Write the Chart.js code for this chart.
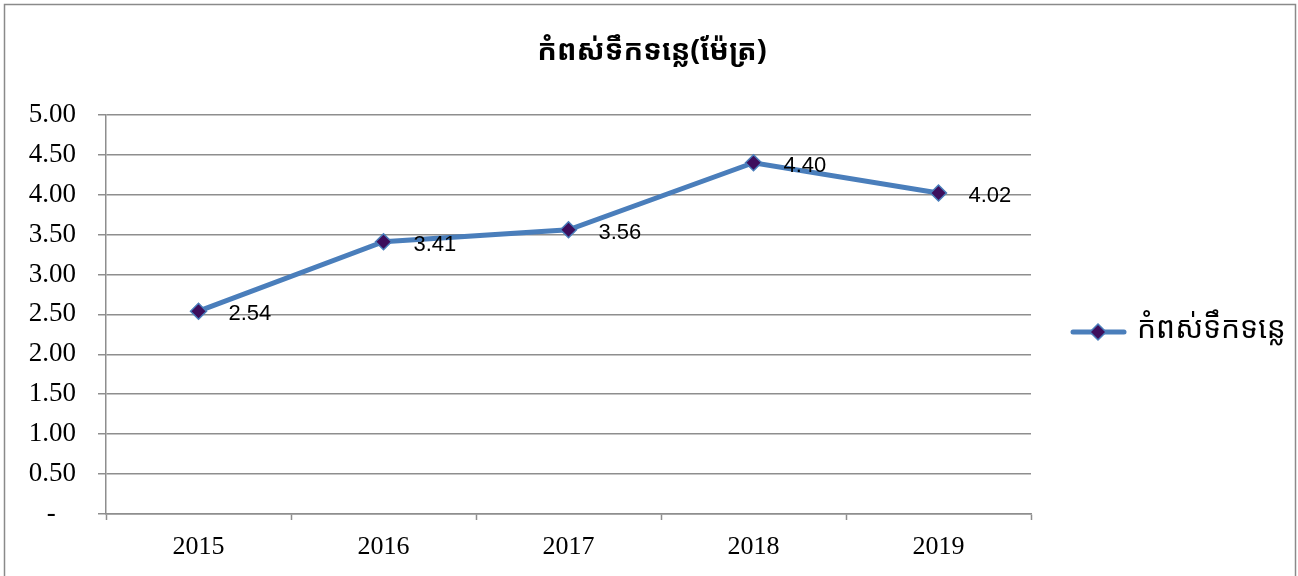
<!DOCTYPE html>
<html>
<head>
<meta charset="utf-8">
<script src="https://cdn.jsdelivr.net/npm/chart.js@4/dist/chart.umd.min.js"></script>
<style>
  html, body { margin: 0; padding: 0; background: #fff; }
  #wrap { position: absolute; left: 0; top: 0; width: 1298px; height: 576px; }
</style>
</head>
<body>
<div id="wrap"><canvas id="chart" width="1298" height="576"></canvas></div>
<script>
// chart data
const years = ['2015', '2016', '2017', '2018', '2019'];
const waterLevel = [2.54, 3.41, 3.56, 4.40, 4.02];
const seriesName = 'កំពស់ទឹកទន្លេ';
const chartTitle = 'កំពស់ទឹកទន្លេ(ម៉ែត្រ)';

const khmerFont = '"Khmer OS System", "Noto Sans Khmer", "Khmer OS", "Noto Sans", sans-serif';
const serifFont = '"Liberation Serif", "Times New Roman", serif';
const lineColor = '#4a7ebb';
const markerColor = '#3d0e5c';
const gridColor = '#8e8e8e';

// outer frame
const framePlugin = {
  id: 'frame',
  beforeDraw(chart) {
    const ctx = chart.ctx;
    ctx.save();
    ctx.strokeStyle = '#8a8a8a';
    ctx.lineWidth = 1.5;
    ctx.strokeRect(4.5, 4.5, 1291, 580);
    ctx.restore();
  }
};

// value labels next to each point
const valueLabels = {
  id: 'valueLabels',
  afterDatasetsDraw(chart) {
    const ctx = chart.ctx;
    const meta = chart.getDatasetMeta(0);
    ctx.save();
    ctx.font = '22px "Liberation Sans", Arial, sans-serif';
    ctx.fillStyle = '#000';
    ctx.textAlign = 'left';
    ctx.textBaseline = 'middle';
    meta.data.forEach((pt, i) => {
      ctx.fillText(waterLevel[i].toFixed(2), pt.x + 30, pt.y + 3);
    });
    ctx.restore();
  }
};

// Excel-style legend: line with a diamond marker
const sideLegend = {
  id: 'sideLegend',
  afterDraw(chart) {
    const ctx = chart.ctx;
    const ds = chart.data.datasets[0];
    const y = 332;
    ctx.save();
    ctx.strokeStyle = lineColor;
    ctx.lineWidth = 5;
    ctx.lineCap = 'round';
    ctx.beginPath();
    ctx.moveTo(1073, y);
    ctx.lineTo(1124, y);
    ctx.stroke();
    ctx.fillStyle = markerColor;
    ctx.strokeStyle = lineColor;
    ctx.lineWidth = 1.5;
    ctx.beginPath();
    ctx.moveTo(1098, y - 8); ctx.lineTo(1106, y); ctx.lineTo(1098, y + 8); ctx.lineTo(1090, y);
    ctx.closePath();
    ctx.fill();
    ctx.stroke();
    ctx.fillStyle = '#000';
    ctx.font = '30px ' + khmerFont;
    ctx.textAlign = 'left';
    ctx.textBaseline = 'middle';
    ctx.fillText(ds.label, 1137, y - 3);
    ctx.restore();
  }
};

new Chart(document.getElementById('chart'), {
  type: 'line',
  data: {
    labels: years,
    datasets: [{
      label: seriesName,
      data: waterLevel,
      borderColor: lineColor,
      borderWidth: 5,
      tension: 0,
      pointStyle: 'rectRot',
      pointRadius: 8,
      pointHoverRadius: 8,
      pointBackgroundColor: markerColor,
      pointBorderColor: lineColor,
      pointBorderWidth: 1.5
    }]
  },
  options: {
    responsive: false,
    animation: false,
    events: [],
    layout: { padding: { left: 6, right: 0, top: 0, bottom: 0 } },
    plugins: {
      legend: { display: false },
      tooltip: { enabled: false },
      title: {
        display: true,
        text: chartTitle,
        color: '#000',
        font: { family: khmerFont, size: 29, weight: 'bold' },
        padding: { top: 34, bottom: 46 }
      }
    },
    scales: {
      x: {
        offset: true,
        grid: {
          offset: true,
          drawOnChartArea: false,
          drawTicks: true,
          tickLength: 6,
          tickColor: gridColor,
          tickWidth: 1.5
        },
        border: { color: gridColor, width: 1.5 },
        ticks: {
          color: '#000',
          padding: 12,
          maxRotation: 0,
          font: { family: serifFont, size: 26 }
        },
        afterFit(scale) { scale.height = 62; }
      },
      y: {
        min: 0,
        max: 5,
        grid: {
          color: gridColor,
          lineWidth: 1.5,
          tickLength: 8
        },
        border: { color: gridColor, width: 1.5 },
        ticks: {
          stepSize: 0.5,
          color: '#000',
          padding: 22,
          font: { family: serifFont, size: 27 },
          // accounting style: zero shows as a dash
          callback: v => v === 0 ? '-   ' : Number(v).toFixed(2)
        },
        afterFit(scale) { scale.width = 100; }
      },
      // empty box that reserves the legend column on the right
      legendSpace: {
        type: 'linear',
        position: 'right',
        grid: { display: false },
        border: { display: false },
        ticks: { display: false },
        afterFit(scale) { scale.width = 267; }
      }
    }
  },
  plugins: [framePlugin, valueLabels, sideLegend]
});
</script>
</body>
</html>
